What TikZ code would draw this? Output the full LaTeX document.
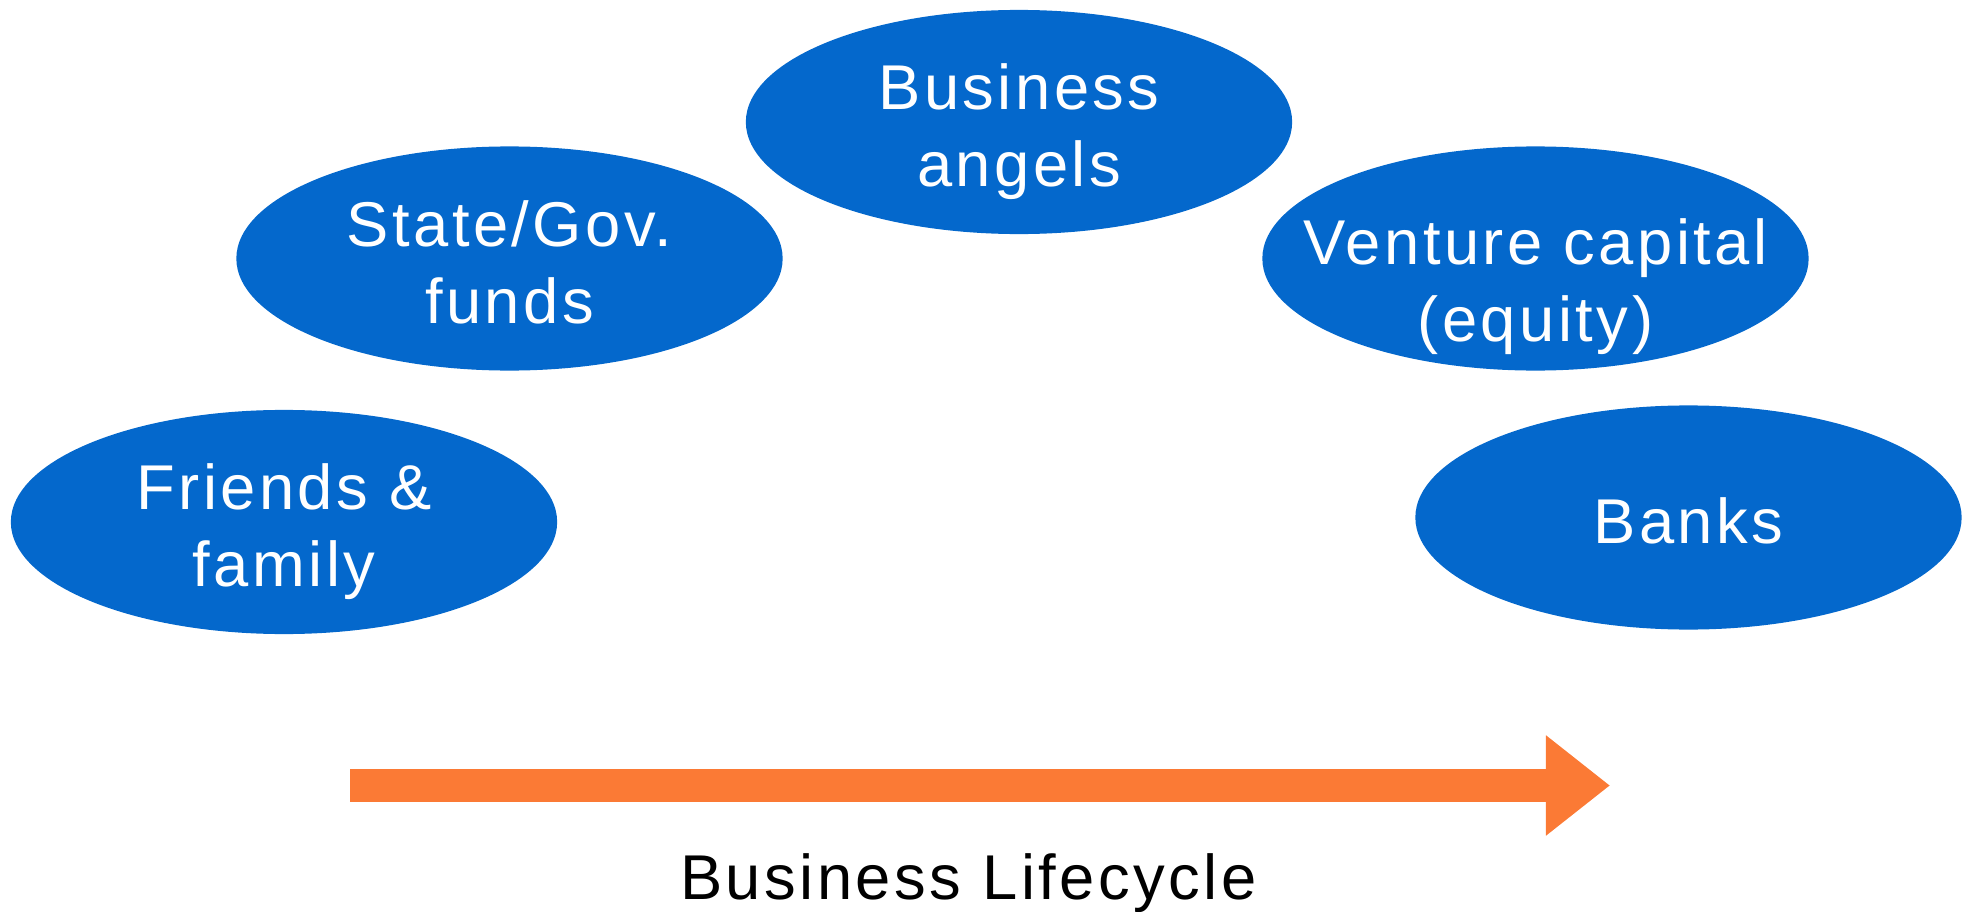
\documentclass[tikz,border=0pt]{standalone}
\usepackage{fontspec}
\setmainfont{Liberation Sans}[LetterSpace=5.5]
\usetikzlibrary{shapes.geometric,arrows.meta}
\definecolor{fundblue}{RGB}{4,104,204}
\definecolor{lifeorange}{RGB}{251,122,53}
\tikzset{
    fund/.style={ellipse,fill=fundblue,minimum width=5.46cm,minimum height=2.24cm,inner sep=0pt},
    fundtext/.style={text=white,align=center,font=\fontsize{18}{21.9}\selectfont,inner sep=0pt,
        text height=1.23cm,text depth=0pt,yshift=-0.03cm},
    lifearrow/.style={lifeorange,line width=0.32cm,-{Triangle[length=0.64cm,width=0.96cm]}},
    lifelabel/.style={font=\fontsize{18}{21.9}\selectfont,anchor=base,inner sep=0pt}
}

\begin{document}
\begin{tikzpicture}[x=0.01cm,y=-0.01cm]

    % page frame, in pixels of the reference
    \useasboundingbox (0,0) rectangle (1971,912);

    % sources of funding, left to right along the lifecycle
    \node[fund,label={[fundtext]center:{Friends \&\\family}}] (friends) at (284,522) {};
    \node[fund,label={[fundtext]center:{State/Gov.\\funds}}] (state) at (509.5,258.5) {};
    \node[fund,label={[fundtext]center:{Business\\angels}}] (angels) at (1019,122) {};
    \node[fund,label={[fundtext,yshift=-0.18cm]center:{Venture capital\\(equity)}}] (venture) at (1535.5,258.5) {};
    \node[fund,label={[fundtext,text height=0.46cm]center:{Banks}}] (banks) at (1688.5,517.5) {};

    % lifecycle arrow
    \coordinate (lifeStart) at (350,785.5);
    \coordinate (lifeEnd) at (1610,785.5);
    \draw[lifearrow] (lifeStart) -- (lifeEnd);

    \node[lifelabel] (lifecycle) at (968.5,899) {Business Lifecycle};

\end{tikzpicture}
\end{document}
